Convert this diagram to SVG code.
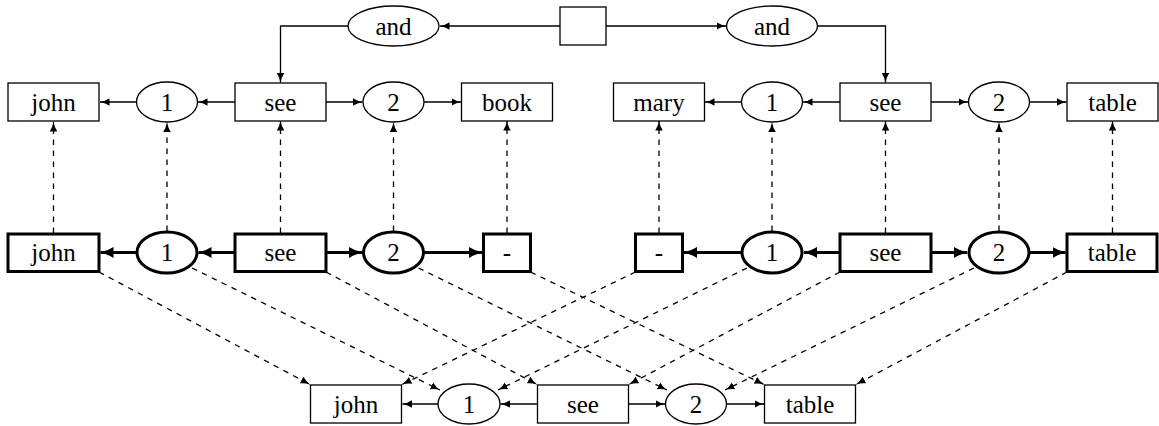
<svg xmlns="http://www.w3.org/2000/svg" width="1159" height="426" viewBox="0 0 1159 426">
<defs>
<style>
.b{fill:#fff;stroke:#000;stroke-width:1.3}
.k{stroke-width:3}
.t{font-size:25px;text-anchor:middle;fill:#000}
.e{fill:none;stroke:#000;stroke-width:1.3}
.ek{stroke-width:2.8}
.d{stroke-dasharray:5.5 5.5}
</style>
<marker id="a" viewBox="0 -4 10 8" refX="9.5" refY="0" markerWidth="10" markerHeight="8" markerUnits="userSpaceOnUse" orient="auto"><path d="M0,-3.8 Q4,-1 10,0 Q4,1 0,3.8 Z" fill="#000"/></marker>
<marker id="ak" viewBox="0 -6 14 12" refX="13" refY="0" markerWidth="14" markerHeight="12" markerUnits="userSpaceOnUse" orient="auto"><path d="M0,-5.5 Q6,-1.5 14,0 Q6,1.5 0,5.5 Z" fill="#000"/></marker>
</defs>
<rect width="1159" height="426" fill="#fff"/>

<g id="connectors">
<path class="e" d="M560,26 H440" marker-end="url(#a)"/>
<path class="e" d="M606,26 H726" marker-end="url(#a)"/>
<path class="e" d="M348,26 H280.5 V82.5" marker-end="url(#a)"/>
<path class="e" d="M817.5,26 H885.5 V82.5" marker-end="url(#a)"/>
<path class="e" d="M136.5,102 H100" marker-end="url(#a)"/>
<path class="e" d="M235,102 H198" marker-end="url(#a)"/>
<path class="e" d="M326,102 H362.5" marker-end="url(#a)"/>
<path class="e" d="M424,102 H461" marker-end="url(#a)"/>
<path class="e" d="M741.5,102 H705" marker-end="url(#a)"/>
<path class="e" d="M840,102 H803" marker-end="url(#a)"/>
<path class="e" d="M931,102 H968" marker-end="url(#a)"/>
<path class="e" d="M1029.5,102 H1066.5" marker-end="url(#a)"/>
<path class="e ek" d="M136.5,252.5 H100.5" marker-end="url(#ak)"/>
<path class="e ek" d="M235,252.5 H198.5" marker-end="url(#ak)"/>
<path class="e ek" d="M326,252.5 H362" marker-end="url(#ak)"/>
<path class="e ek" d="M424,252.5 H482" marker-end="url(#ak)"/>
<path class="e ek" d="M741.5,252.5 H684" marker-end="url(#ak)"/>
<path class="e ek" d="M840,252.5 H804" marker-end="url(#ak)"/>
<path class="e ek" d="M931,252.5 H967" marker-end="url(#ak)"/>
<path class="e ek" d="M1029.5,252.5 H1065.5" marker-end="url(#ak)"/>
<path class="e" d="M438.5,404 H402.5" marker-end="url(#a)"/>
<path class="e" d="M537.5,404 H500.5" marker-end="url(#a)"/>
<path class="e" d="M628.5,404 H665" marker-end="url(#a)"/>
<path class="e" d="M726.5,404 H764" marker-end="url(#a)"/>
<path class="e d" d="M53.5,233 V122" marker-end="url(#a)"/>
<path class="e d" d="M167,231 V122.5" marker-end="url(#a)"/>
<path class="e d" d="M280.5,233 V121" marker-end="url(#a)"/>
<path class="e d" d="M393.5,231 V122.5" marker-end="url(#a)"/>
<path class="e d" d="M507,233 V121" marker-end="url(#a)"/>
<path class="e d" d="M659,233 V121" marker-end="url(#a)"/>
<path class="e d" d="M772,231 V122.5" marker-end="url(#a)"/>
<path class="e d" d="M885.5,233 V121" marker-end="url(#a)"/>
<path class="e d" d="M999,231 V122.5" marker-end="url(#a)"/>
<path class="e d" d="M1112.5,233 V121" marker-end="url(#a)"/>
<path class="e d" d="M99,272 L310,384.5" marker-end="url(#a)"/>
<path class="e d" d="M192,268 L440,390" marker-end="url(#a)"/>
<path class="e d" d="M326,272 L537,384.5" marker-end="url(#a)"/>
<path class="e d" d="M418.5,268 L667,390" marker-end="url(#a)"/>
<path class="e d" d="M530.5,272 L764,384.5" marker-end="url(#a)"/>
<path class="e d" d="M635.5,272 L402,384.5" marker-end="url(#a)"/>
<path class="e d" d="M747,268 L498,390" marker-end="url(#a)"/>
<path class="e d" d="M840,272 L629,384.5" marker-end="url(#a)"/>
<path class="e d" d="M974,268 L725,390" marker-end="url(#a)"/>
<path class="e d" d="M1067,272 L856,384.5" marker-end="url(#a)"/>
</g>

<g font-family="'Liberation Serif', 'Times New Roman', 'DejaVu Serif', serif">
<g id="root"><rect class="b" x="560" y="7" width="46" height="38"/></g>
<g id="and-left"><ellipse class="b" cx="393.5" cy="26" rx="45.5" ry="20"/><text class="t" x="393.5" y="34.5">and</text></g>
<g id="and-right"><ellipse class="b" cx="772" cy="26" rx="45.5" ry="20"/><text class="t" x="772" y="34.5">and</text></g>

<g id="t-john"><rect class="b" x="8" y="83" width="91" height="38"/><text class="t" x="53.5" y="110.5">john</text></g>
<g id="t-1a"><ellipse class="b" cx="167" cy="102" rx="30.5" ry="20"/><text class="t" x="167" y="110.5">1</text></g>
<g id="t-see-a"><rect class="b" x="235" y="83" width="91" height="38"/><text class="t" x="280.5" y="110.5">see</text></g>
<g id="t-2a"><ellipse class="b" cx="393.5" cy="102" rx="30.5" ry="20"/><text class="t" x="393.5" y="110.5">2</text></g>
<g id="t-book"><rect class="b" x="461.5" y="83" width="91" height="38"/><text class="t" x="507" y="110.5">book</text></g>
<g id="t-mary"><rect class="b" x="613.5" y="83" width="91" height="38"/><text class="t" x="659" y="110.5">mary</text></g>
<g id="t-1b"><ellipse class="b" cx="772" cy="102" rx="30.5" ry="20"/><text class="t" x="772" y="110.5">1</text></g>
<g id="t-see-b"><rect class="b" x="840" y="83" width="91" height="38"/><text class="t" x="885.5" y="110.5">see</text></g>
<g id="t-2b"><ellipse class="b" cx="999" cy="102" rx="30.5" ry="20"/><text class="t" x="999" y="110.5">2</text></g>
<g id="t-table"><rect class="b" x="1067" y="83" width="91" height="38"/><text class="t" x="1112.5" y="110.5">table</text></g>

<g id="m-john"><rect class="b k" x="8" y="234" width="91" height="37.5"/><text class="t" x="53.5" y="261">john</text></g>
<g id="m-1a"><ellipse class="b k" cx="167" cy="252.5" rx="30" ry="20.5"/><text class="t" x="167" y="261">1</text></g>
<g id="m-see-a"><rect class="b k" x="235" y="234" width="91" height="37.5"/><text class="t" x="280.5" y="261">see</text></g>
<g id="m-2a"><ellipse class="b k" cx="393.5" cy="252.5" rx="30" ry="20.5"/><text class="t" x="393.5" y="261">2</text></g>
<g id="m-dash-a"><rect class="b k" x="483.5" y="234" width="47" height="37.5"/><text class="t" x="507" y="261">-</text></g>
<g id="m-dash-b"><rect class="b k" x="635.5" y="234" width="47" height="37.5"/><text class="t" x="659" y="261">-</text></g>
<g id="m-1b"><ellipse class="b k" cx="772" cy="252.5" rx="30" ry="20.5"/><text class="t" x="772" y="261">1</text></g>
<g id="m-see-b"><rect class="b k" x="840" y="234" width="91" height="37.5"/><text class="t" x="885.5" y="261">see</text></g>
<g id="m-2b"><ellipse class="b k" cx="999" cy="252.5" rx="30" ry="20.5"/><text class="t" x="999" y="261">2</text></g>
<g id="m-table"><rect class="b k" x="1067" y="234" width="90" height="37.5"/><text class="t" x="1112" y="261">table</text></g>

<g id="b-john"><rect class="b" x="310.5" y="385" width="91" height="38"/><text class="t" x="356" y="412.5">john</text></g>
<g id="b-1"><ellipse class="b" cx="469" cy="404" rx="31" ry="20"/><text class="t" x="469" y="412.5">1</text></g>
<g id="b-see"><rect class="b" x="537.5" y="385" width="91" height="38"/><text class="t" x="583" y="412.5">see</text></g>
<g id="b-2"><ellipse class="b" cx="696" cy="404" rx="30.5" ry="20"/><text class="t" x="696" y="412.5">2</text></g>
<g id="b-table"><rect class="b" x="764.5" y="385" width="91" height="38"/><text class="t" x="810" y="412.5">table</text></g>
</g>
</svg>
